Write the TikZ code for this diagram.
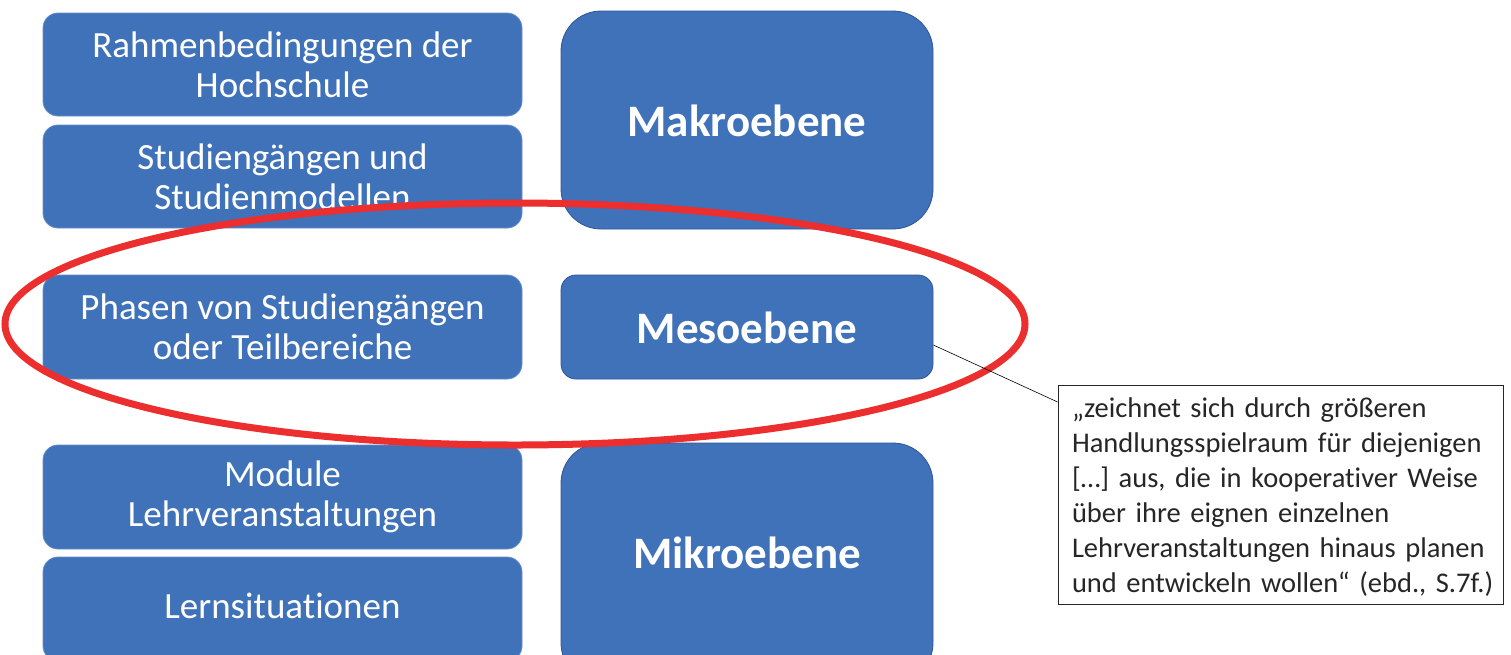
\documentclass[tikz,border=0pt]{standalone}
\usepackage{fontspec}
\setmainfont{Carlito}[RawFeature=-liga]
\definecolor{boxblue}{HTML}{4072BA}
\definecolor{boxedge}{HTML}{2F5597}
\definecolor{ringred}{HTML}{EC2E2E}
\definecolor{txtgray}{HTML}{262626}
\begin{document}
\begin{tikzpicture}[x=1pt,y=-1pt,
  lbox/.style={draw=boxblue!80!white, line width=0.8pt, fill=boxblue, rounded corners=15pt,
    minimum width=479pt, text=white, align=center, inner sep=0pt,
    font=\fontsize{37}{40}\selectfont},
  rbox/.style={draw=boxedge, line width=0.8pt, fill=boxblue, rounded corners=#1,
    minimum width=372pt, inner sep=0pt},
  rbox/.default=40pt,
  ltext/.style={text=white, font=\fontsize{37}{40}\selectfont},
  rtext/.style={text=white, font=\fontsize{45}{48}\selectfont\bfseries}]
\useasboundingbox (0,0) rectangle (1511,654);
\begin{scope}
\clip (0,0) rectangle (1511,654);
% left column
\node[lbox, minimum height=103pt] (rahmen) at (282.5,64.5) {Rahmenbedingungen der\\Hochschule};
\node[lbox, minimum height=103pt] (studg) at (282.5,176.5) {Studiengängen und\\Studienmodellen};
\node[lbox, minimum height=104pt] (phasen) at (282.5,327) {Phasen von Studiengängen\\oder Teilbereiche};
\node[lbox, minimum height=104pt] (module) at (282.5,497) {Module\\Lehrveranstaltungen};
\node[lbox, minimum height=104pt] (lern) at (282.5,609) {};
\node[ltext] (lerntxt) at (282.5,606) {Lernsituationen};
% right column
\node[rbox, minimum height=218pt] (makro) at (747,120) {};
\node[rtext] (makrotxt) at (747,121) {Makroebene};
\node[rbox=15pt, minimum height=104pt] (meso) at (747,327) {};
\node[rtext] (mesotxt) at (747,328) {Mesoebene};
\node[rbox, minimum height=240pt] (mikro) at (747,563) {};
\node[rtext] (mikrotxt) at (747,553) {Mikroebene};
\end{scope}
% ellipse
\draw[ringred, line width=7pt] (515,324) ellipse [x radius=510pt, y radius=121pt];
% callout
\node[draw=txtgray, line width=0.8pt, fill=white, minimum width=445pt, minimum height=219pt,
  inner sep=0pt] (callout) at (1280.5,494.5) {};
\node[text=txtgray, align=left, text width=428pt, inner sep=0pt,
  font=\fontsize{28.5}{35}\selectfont] (callouttxt) at (1286,497.5)
  {„zeichnet sich durch größeren\\Handlungsspielraum für diejenigen\\{[…]} aus, die in kooperativer Weise\\über ihre eignen einzelnen\\Lehrveranstaltungen hinaus planen\\und entwickeln wollen“ (ebd., S.7f.)};
\draw[black, line width=0.6pt] (meso.east |- 0,345) -- (callout.west |- 0,402);
\end{tikzpicture}
\end{document}
